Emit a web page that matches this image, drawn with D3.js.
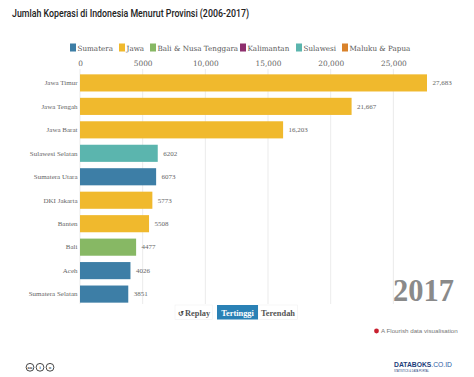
<!DOCTYPE html>
<html>
<head>
<meta charset="utf-8">
<script src="https://cdn.jsdelivr.net/npm/d3@7"></script>
<style>
html, body { margin: 0; padding: 0; background: #fff; overflow: hidden; }
svg { display: block; }
.serif { font-family: "DejaVu Serif", serif; }
.serif2 { font-family: "Liberation Serif", serif; }
</style>
</head>
<body>
<div id="chart"></div>
<script>
const provinces = ["Jawa Timur", "Jawa Tengah", "Jawa Barat", "Sulawesi Selatan", "Sumatera Utara", "DKI Jakarta", "Banten", "Bali", "Aceh", "Sumatera Selatan"]
const values = [27683, 21667, 16203, 6202, 6073, 5773, 5508, 4477, 4026, 3851]
const regions = ["Jawa", "Jawa", "Jawa", "Sulawesi", "Sumatera", "Jawa", "Jawa", "Bali & Nusa Tenggara", "Sumatera", "Sumatera"]
const legendNames = ["Sumatera", "Jawa", "Bali & Nusa Tenggara", "Kalimantan", "Sulawesi", "Maluku & Papua"]
const legendColors = ["#3d7ea6", "#f0b92d", "#87b864", "#8e2f6e", "#5bb5ae", "#d9822b"]
const tickValues = [0, 5000, 10000, 15000, 20000, 25000]
const legendX = [70, 119, 150, 240, 296, 342]

const width = 474
const height = 377

const svg = d3.select("#chart").append("svg")
    .attr("width", width)
    .attr("height", height)
    .attr("viewBox", `0 0 ${width} ${height}`)

const fmt = d => d >= 10000 ? d3.format(",")(d) : String(d)

const x = d3.scaleLinear().domain([0, 27683]).range([80, 427])
const y = d3.scaleBand().domain(provinces).range([72, 305]).paddingInner(0.27).paddingOuter(0.1)
const color = d3.scaleOrdinal().domain(legendNames).range(legendColors)

svg.append("text")
    .text("Jumlah Koperasi di Indonesia Menurut Provinsi (2006-2017)")
    .attr("x", 12).attr("y", 16.5)
    .attr("textLength", 237)
    .attr("lengthAdjust", "spacingAndGlyphs")
    .style("font-family", "Roboto, sans-serif")
    .style("font-size", "10.6px")
    .style("font-weight", 500)
    .style("fill", "#222")

// legend
const legend = svg.append("g").selectAll("g")
    .data(legendNames)
    .join("g")
    .attr("transform", (d, i) => `translate(${legendX[i]}, 43.5)`)

legend.append("rect")
    .attr("width", 6).attr("height", 8)
    .attr("fill", d => color(d))

legend.append("text")
    .text(d => d)
    .attr("class", "serif")
    .attr("x", 7.5).attr("y", 7.5)
    .style("font-size", "7.2px")
    .style("fill", "#555")

// axis on top, tick lines become the gridlines
const axis = svg.append("g")
    .attr("transform", "translate(0, 69)")
    .call(d3.axisTop(x).tickValues(tickValues).tickFormat(fmt).tickSize(0).tickPadding(3))

axis.select(".domain").remove()
axis.selectAll("text")
    .attr("class", "serif")
    .style("font-size", "7.4px")
    .style("fill", "#666")

svg.append("g").selectAll("line")
    .data(tickValues)
    .join("line")
    .attr("x1", d => x(d)).attr("x2", d => x(d))
    .attr("y1", 69).attr("y2", 304)
    .attr("stroke", "#e6e6e6")
    .attr("stroke-width", 0.8)

svg.append("g").selectAll("rect")
    .data(provinces)
    .join("rect")
    .attr("x", x(0))
    .attr("y", d => y(d))
    .attr("width", (d, i) => x(values[i]) - x(0))
    .attr("height", y.bandwidth())
    .attr("fill", (d, i) => color(regions[i]))

svg.append("g").selectAll("text")
    .data(provinces)
    .join("text")
    .text(d => d)
    .attr("class", "serif2")
    .attr("x", 77.5)
    .attr("y", d => y(d) + y.bandwidth() / 2 + 2.3)
    .attr("text-anchor", "end")
    .style("font-size", "7px")
    .style("fill", "#666")

svg.append("g").selectAll("text")
    .data(provinces)
    .join("text")
    .text((d, i) => fmt(values[i]))
    .attr("class", "serif2")
    .attr("x", (d, i) => x(values[i]) + 5.5)
    .attr("y", d => y(d) + y.bandwidth() / 2 + 2.3)
    .style("font-size", "7px")
    .style("fill", "#666")

// big year
svg.append("text")
    .text("2017")
    .attr("class", "serif2")
    .attr("x", 454).attr("y", 301)
    .attr("text-anchor", "end")
    .style("font-size", "30.5px")
    .style("font-weight", "bold")
    .style("fill", "#8a8a8a")

// buttons
const buttons = svg.append("g").attr("class", "serif2").style("font-size", "8.4px").style("font-weight", "bold")
buttons.append("rect").attr("x", 175).attr("y", 305).attr("width", 37.5).attr("height", 14.5).attr("fill", "#fff").attr("stroke", "#f0f0f0").attr("stroke-width", 0.6)
buttons.append("rect").attr("x", 258).attr("y", 305).attr("width", 39.5).attr("height", 14.5).attr("fill", "#fff").attr("stroke", "#f0f0f0").attr("stroke-width", 0.6)
buttons.append("rect").attr("x", 217).attr("y", 305).attr("width", 41).attr("height", 14.5).attr("fill", "#2a81b5")
buttons.append("text").text("\u21BA").attr("x", 178).attr("y", 315.5).style("fill", "#444").style("font-size", "7px")
buttons.append("text").text("Replay").attr("x", 185).attr("y", 315.5).style("fill", "#555")
buttons.append("text").text("Tertinggi").attr("x", 237.5).attr("y", 315.5).attr("text-anchor", "middle").style("fill", "#fff")
buttons.append("text").text("Terendah").attr("x", 278).attr("y", 315.5).attr("text-anchor", "middle").style("fill", "#555")

// flourish credit
svg.append("circle").attr("cx", 376.5).attr("cy", 331).attr("r", 2.4).attr("fill", "#c8202f")
svg.append("text")
    .text("A Flourish data visualisation")
    .attr("x", 381).attr("y", 333)
    .style("font-family", "Liberation Sans, sans-serif")
    .style("font-size", "6.2px")
    .style("fill", "#777")

// cc icons
const ccIcons = svg.append("g").selectAll("g")
    .data(["cc", "i", "="])
    .join("g")
    .attr("transform", (d, i) => `translate(${30 + i * 10}, 367.3)`)
ccIcons.append("circle").attr("r", 3.9).attr("fill", "none").attr("stroke", "#333").attr("stroke-width", 0.9)
ccIcons.append("text").text(d => d)
    .attr("y", 1.6).attr("text-anchor", "middle")
    .style("font-family", "Liberation Sans, sans-serif")
    .style("font-size", "4.4px").style("font-weight", "bold").style("fill", "#333")

// logo
const logo = svg.append("text").attr("x", 394).attr("y", 367)
    .attr("textLength", 58)
    .attr("lengthAdjust", "spacingAndGlyphs")
    .style("font-family", "Liberation Sans, sans-serif")
    .style("font-size", "7px")
logo.append("tspan").text("DATABOKS").style("font-weight", "bold").style("fill", "#1d3d7a")
logo.append("tspan").text(".CO.ID").style("fill", "#2b5aa5")
svg.append("text").text("STATISTICS & DATA PORTAL")
    .attr("x", 394).attr("y", 372)
    .style("font-family", "Liberation Sans, sans-serif")
    .style("font-size", "2.6px")
    .style("fill", "#1d3d7a")
</script>
</body>
</html>
